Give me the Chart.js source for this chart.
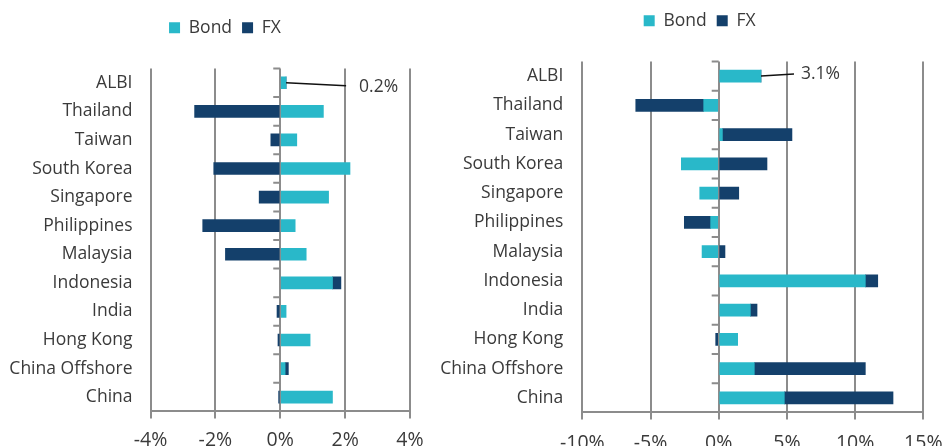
<!DOCTYPE html>
<html>
<head>
<meta charset="utf-8">
<script src="https://cdn.jsdelivr.net/npm/chart.js@4.4.0/dist/chart.umd.min.js"></script>
<style>
  body { margin: 0; background: #fff; }
  .wrap { position: relative; width: 944px; height: 446px; overflow: hidden; }
  #left { position: absolute; left: 0; top: 0; }
  #right { position: absolute; left: 420px; top: 0; }
</style>
</head>
<body>
<div class="wrap">
  <canvas id="left" width="440" height="463"></canvas>
  <canvas id="right" width="524" height="468"></canvas>
</div>
<script>
// Datos
const categories = ['ALBI', 'Thailand', 'Taiwan', 'South Korea', 'Singapore', 'Philippines',
  'Malaysia', 'Indonesia', 'India', 'Hong Kong', 'China Offshore', 'China'];

const leftBond = [0.18, 1.33, 0.51, 2.15, 1.49, 0.46, 0.80, 1.61, 0.18, 0.92, 0.15, 1.61];
const leftFx = [0, -2.64, -0.29, -2.05, -0.65, -2.39, -1.69, 0.26, -0.10, -0.07, 0.10, -0.05];
const leftTicks = [-4, -2, 0, 2, 4];

const rightBond = [3.10, -1.10, 0.27, -2.74, -1.39, -0.59, -1.22, 10.75, 2.32, 1.39, 2.61, 4.81];
const rightFx = [0, -4.98, 5.10, 3.54, 1.47, -1.93, 0.46, 0.91, 0.49, -0.22, 8.14, 7.97];
const rightTicks = [-10, -5, 0, 5, 10, 15];

const BOND = '#29b8c9';
const FX = '#14406b';
const GRID = '#8c8c8c';
const TEXT = '#3a3a3a';
const FONT = "'Open Sans', sans-serif";

// Espacio extra bajo la leyenda y desplazamiento horizontal
const legendPos = {
  id: 'legendPos',
  beforeInit(chart) {
    const fit = chart.legend.fit;
    chart.legend.fit = function () {
      fit.call(this);
      this.height += chart.options.plugins.legendPos.extra;
    };
  },
  afterLayout(chart, args, opts) {
    chart.legend.left += opts.shift;
    chart.legend.right += opts.shift;
  }
};

// Marcas cortas sobre la línea del 0
const zeroTicks = {
  id: 'zeroTicks',
  afterDraw(chart) {
    const ctx = chart.ctx;
    const x0 = chart.scales.x.getPixelForValue(0);
    const ys = chart.scales.y;
    const step = (ys.bottom - ys.top) / categories.length;
    ctx.save();
    ctx.strokeStyle = GRID;
    ctx.lineWidth = 2;
    ctx.beginPath();
    for (let i = 0; i < categories.length; i++) {
      const y = ys.getPixelForValue(i) - step / 2;
      ctx.moveTo(x0, y);
      ctx.lineTo(x0 - 7, y);
    }
    ctx.stroke();
    ctx.restore();
  }
};

// Etiqueta con línea guía para el total de ALBI
const albiLabel = {
  id: 'albiLabel',
  afterDatasetsDraw(chart, args, opts) {
    const ctx = chart.ctx;
    const xs = chart.scales.x;
    const bar = chart.getDatasetMeta(0).data[0];
    const total = chart.data.datasets[0].data[0] + chart.data.datasets[1].data[0];
    const x0 = xs.getPixelForValue(total);
    const y0 = bar.y;
    ctx.save();
    ctx.strokeStyle = '#111';
    ctx.lineWidth = 1.5;
    ctx.beginPath();
    ctx.moveTo(x0, y0);
    ctx.lineTo(x0 + opts.dx, y0 + opts.dy);
    ctx.stroke();
    ctx.fillStyle = TEXT;
    ctx.font = '17.5px ' + FONT;
    ctx.textBaseline = 'middle';
    ctx.textAlign = 'left';
    ctx.fillText(total.toFixed(1) + '%', x0 + opts.dx + opts.gap, y0 + opts.dy + opts.ty);
    ctx.restore();
  }
};

function makeChart(id, bond, fx, ticks, cfg) {
  return new Chart(document.getElementById(id), {
    type: 'bar',
    data: {
      labels: categories,
      datasets: [
        { label: 'Bond', data: bond, backgroundColor: BOND, barThickness: 12 },
        { label: 'FX', data: fx, backgroundColor: FX, barThickness: 12 }
      ]
    },
    options: {
      indexAxis: 'y',
      responsive: false,
      animation: false,
      layout: { padding: cfg.padding },
      plugins: {
        legend: {
          labels: {
            boxWidth: 11, boxHeight: 11, padding: 10, color: TEXT,
            font: { family: FONT, size: 17.5 }
          }
        },
        legendPos: { extra: cfg.gap, shift: cfg.shift },
        albiLabel: cfg.label,
        tooltip: { enabled: false }
      },
      scales: {
        x: {
          stacked: true,
          min: ticks[0],
          max: ticks[ticks.length - 1],
          afterBuildTicks: (scale) => { scale.ticks = ticks.map(v => ({ value: v })); },
          afterFit: (scale) => { scale.paddingLeft = 0; scale.paddingRight = 0; },
          grid: { color: GRID, lineWidth: 2, tickLength: 7 },
          border: { color: GRID, width: 2 },
          ticks: {
            color: TEXT, padding: cfg.tickPad,
            font: { family: FONT, size: 19.5, lineHeight: 0.9 },
            callback: (v) => v + '%'
          }
        },
        y: {
          stacked: true,
          grid: { display: false, drawTicks: false },
          border: { display: false },
          ticks: { color: TEXT, padding: cfg.labelPad, font: { family: FONT, size: 17.5 } },
          afterFit: (scale) => { scale.width = cfg.axisWidth; }
        }
      }
    },
    plugins: [legendPos, zeroTicks, albiLabel]
  });
}

document.addEventListener('DOMContentLoaded', () => {
  makeChart('left', leftBond, leftFx, leftTicks, {
    padding: { left: 0, right: 30, top: 9, bottom: 0 },
    gap: 22, shift: 20, tickPad: 13.5, labelPad: 18, axisWidth: 150.5,
    label: { dx: 60, dy: 3, gap: 13, ty: 1 }
  });
  makeChart('right', rightBond, rightFx, rightTicks, {
    padding: { left: 0, right: 20.7, top: 2, bottom: 0 },
    gap: 22, shift: 28, tickPad: 15.5, labelPad: 19, axisWidth: 162.3,
    label: { dx: 33, dy: -2, gap: 7, ty: 0 }
  });
});
</script>
</body>
</html>
